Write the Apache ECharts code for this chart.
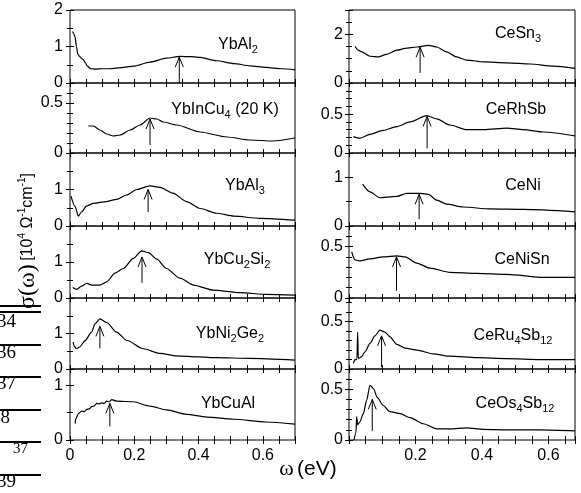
<!DOCTYPE html>
<html><head><meta charset="utf-8">
<script src="https://cdn.jsdelivr.net/npm/echarts@6/dist/echarts.min.js"></script>
<style>html,body{margin:0;padding:0;background:#fff}#c{width:581px;height:493px}</style>
</head><body><div id="c"></div>
<script>
// ---- data ----
const ybAl2 = [[0.008,1.41],[0.012,1.35],[0.016,1.25],[0.02,1.0],[0.024,0.8],[0.03,0.72],[0.041,0.64],[0.048,0.55],[0.054,0.46],[0.064,0.39],[0.08,0.38],[0.1,0.39],[0.124,0.39],[0.16,0.42],[0.197,0.46],[0.249,0.57],[0.30,0.68],[0.342,0.73],[0.38,0.72],[0.405,0.70],[0.456,0.61],[0.51,0.53],[0.56,0.47],[0.61,0.43],[0.66,0.39],[0.7,0.36]];
const ybInCu4 = [[0.057,0.27],[0.073,0.27],[0.093,0.23],[0.114,0.19],[0.135,0.17],[0.156,0.18],[0.187,0.23],[0.218,0.28],[0.249,0.35],[0.27,0.34],[0.29,0.31],[0.332,0.28],[0.405,0.21],[0.488,0.16],[0.56,0.13],[0.632,0.12],[0.7,0.15]];
const ybAl3 = [[0.003,0.82],[0.016,0.53],[0.026,0.27],[0.036,0.39],[0.052,0.55],[0.073,0.62],[0.114,0.67],[0.145,0.73],[0.176,0.85],[0.208,1.0],[0.249,1.1],[0.28,1.06],[0.32,0.9],[0.363,0.67],[0.405,0.48],[0.456,0.35],[0.51,0.27],[0.59,0.21],[0.7,0.16]];
const ybCu2Si2 = [[0.008,0.29],[0.021,0.24],[0.036,0.33],[0.052,0.41],[0.067,0.36],[0.093,0.36],[0.114,0.45],[0.14,0.69],[0.166,0.82],[0.197,1.1],[0.223,1.31],[0.244,1.26],[0.27,1.08],[0.30,0.82],[0.342,0.55],[0.384,0.36],[0.446,0.22],[0.529,0.15],[0.612,0.10],[0.7,0.08]];
const ybNi2Ge2 = [[0.01,0.76],[0.012,0.66],[0.02,0.57],[0.03,0.62],[0.047,0.8],[0.067,1.04],[0.078,1.27],[0.093,1.41],[0.114,1.31],[0.145,1.04],[0.176,0.81],[0.228,0.57],[0.28,0.44],[0.332,0.37],[0.40,0.34],[0.456,0.32],[0.56,0.30],[0.7,0.25]];
const ybCuAl = [[0.016,0.3],[0.018,0.39],[0.026,0.48],[0.036,0.53],[0.045,0.52],[0.052,0.56],[0.06,0.57],[0.067,0.61],[0.075,0.62],[0.083,0.67],[0.09,0.66],[0.098,0.68],[0.106,0.67],[0.114,0.71],[0.122,0.70],[0.13,0.74],[0.145,0.71],[0.197,0.70],[0.249,0.62],[0.30,0.55],[0.363,0.47],[0.425,0.42],[0.51,0.38],[0.61,0.33],[0.7,0.29]];
const ceSn3 = [[0.018,1.51],[0.028,1.35],[0.038,1.28],[0.063,1.1],[0.088,1.07],[0.113,1.18],[0.144,1.35],[0.169,1.42],[0.204,1.48],[0.239,1.55],[0.264,1.48],[0.294,1.28],[0.324,1.07],[0.354,0.94],[0.405,0.87],[0.475,0.83],[0.545,0.78],[0.615,0.69],[0.68,0.6]];
const ceRhSb = [[0.013,0.21],[0.033,0.19],[0.063,0.24],[0.103,0.29],[0.144,0.34],[0.184,0.40],[0.234,0.48],[0.264,0.44],[0.304,0.36],[0.354,0.30],[0.405,0.30],[0.475,0.32],[0.525,0.30],[0.585,0.27],[0.68,0.22]];
const ceNi = [[0.041,0.86],[0.063,0.70],[0.093,0.58],[0.123,0.60],[0.144,0.61],[0.174,0.67],[0.214,0.67],[0.239,0.65],[0.264,0.53],[0.294,0.45],[0.344,0.39],[0.425,0.35],[0.525,0.34],[0.68,0.29]];
const ceNiSn = [[0.008,0.45],[0.018,0.37],[0.033,0.36],[0.063,0.38],[0.103,0.40],[0.144,0.41],[0.169,0.40],[0.204,0.34],[0.244,0.29],[0.304,0.25],[0.385,0.24],[0.475,0.23],[0.585,0.20],[0.68,0.20]];
const ceRu4Sb12 = [[0.013,0.06],[0.018,0.10],[0.024,0.10],[0.026,0.39],[0.028,0.11],[0.038,0.13],[0.048,0.18],[0.063,0.27],[0.078,0.35],[0.093,0.41],[0.108,0.39],[0.123,0.34],[0.144,0.26],[0.169,0.22],[0.204,0.20],[0.254,0.16],[0.304,0.135],[0.385,0.12],[0.475,0.11],[0.575,0.10],[0.68,0.10]];
const ceOs4Sb12 = [[0.015,0.0],[0.021,0.07],[0.023,0.23],[0.026,0.15],[0.033,0.18],[0.043,0.26],[0.053,0.39],[0.063,0.54],[0.073,0.51],[0.085,0.42],[0.103,0.34],[0.123,0.28],[0.154,0.26],[0.184,0.22],[0.224,0.16],[0.264,0.11],[0.304,0.11],[0.354,0.12],[0.405,0.105],[0.475,0.10],[0.575,0.10],[0.68,0.09]];

// arrows: [omega, from, to]
const arrowsLeft = [[0.34,0,0.71],[0.249,0.08,0.34],[0.243,0.38,1.0],[0.224,0.42,1.14],[0.093,0.58,1.2],[0.124,0.25,0.67]];
const arrowsRight = [[0.214,0.41,1.47],[0.235,0.06,0.47],[0.211,0.14,0.65],[0.143,0.07,0.40],[0.098,0.02,0.35],[0.07,0.09,0.40]];

// panel labels (rich-text markup for subscripts)
const labelsLeft = ['YbAl{s|2}','YbInCu{s|4} (20 K)','YbAl{s|3}','YbCu{s|2}Si{s|2}','YbNi{s|2}Ge{s|2}','YbCuAl'];
const labelsRight = ['CeSn{s|3}','CeRhSb','CeNi','CeNiSn','CeRu{s|4}Sb{s|12}','CeOs{s|4}Sb{s|12}'];

const yMaxLeft = [2,0.7,2,2,2,1.3], yIntLeft = [1,0.5,1,1,1,1];
const yMaxRight = [3,0.9,1.5,0.7,0.75,0.7], yIntRight = [2,0.5,1,0.5,0.5,0.5];
const xTickStep = 0.2;

// ---- layout ----
const tops = [10,83,153,226,298,369], bottoms = [83,153,226,298,369,440];
const colLeft = [70,349], colWidth = [225,226], colXMax = [0.7,0.68];
const labelPosLeft = [[238,45],[225,110],[245,186],[237,260],[230,334],[228,404]];
const labelPosRight = [[518,34],[516,110],[523,186],[522,260],[513,336],[515,404]];

const seriesData = [[ybAl2,ybInCu4,ybAl3,ybCu2Si2,ybNi2Ge2,ybCuAl],[ceSn3,ceRhSb,ceNi,ceNiSn,ceRu4Sb12,ceOs4Sb12]];
const arrows = [arrowsLeft, arrowsRight];
const yMax = [yMaxLeft, yMaxRight], yInt = [yIntLeft, yIntRight];
const labels = [labelsLeft, labelsRight], labelPos = [labelPosLeft, labelPosRight];

const SANS = 'Liberation Sans', SERIF = 'Liberation Serif';
const grids = [], xAxes = [], yAxes = [], series = [], graphics = [];
let g = 0;
for (let c = 0; c < 2; c++) {
  for (let r = 0; r < 6; r++) {
    grids.push({left: colLeft[c], width: colWidth[c], top: tops[r], height: bottoms[r]-tops[r],
      show: true, borderColor: '#000', borderWidth: 1, backgroundColor: 'transparent'});
    const xBase = {type: 'value', gridIndex: g, min: 0, max: colXMax[c], interval: xTickStep,
      axisLine: {show: false}, splitLine: {show: false},
      axisTick: {show: true, inside: true, length: 4, lineStyle: {color: '#000'}},
      minorTick: {show: true, splitNumber: 4, length: 4, lineStyle: {color: '#000'}}};
    xAxes.push(Object.assign({}, xBase, {position: 'bottom',
      axisLabel: {show: r === 5, fontSize: 16, fontFamily: SANS, color: '#000', margin: 8,
        showMinLabel: c === 0, showMaxLabel: false}}));
    xAxes.push(Object.assign({}, xBase, {position: 'top', axisLabel: {show: false}}));
    const yBase = {type: 'value', gridIndex: g, min: 0, max: yMax[c][r], interval: yInt[c][r],
      axisLine: {show: false}, splitLine: {show: false},
      axisTick: {show: true, inside: true, length: 4, lineStyle: {color: '#000'}},
      minorTick: {show: true, splitNumber: yInt[c][r] === 0.5 ? 5 : (yInt[c][r] === 2 ? 4 : 2), length: 3, lineStyle: {color: '#000'}}};
    yAxes.push(Object.assign({}, yBase, {position: 'left',
      axisLabel: {show: true, fontSize: 16, fontFamily: SANS, color: '#000', margin: c === 0 ? 7 : 6,
        showMinLabel: true, showMaxLabel: (c === 0 && r === 0), hideOverlap: false}}));
    yAxes.push(Object.assign({}, yBase, {position: 'right', axisLabel: {show: false}}));

    series.push({type: 'line', xAxisIndex: 2*g, yAxisIndex: 2*g, data: seriesData[c][r],
      showSymbol: false, symbol: 'none', smooth: 0.25, smoothMonotone: 'x',
      lineStyle: {color: '#000', width: 1.2}, silent: true, animation: false});
    series.push({type: 'custom', xAxisIndex: 2*g, yAxisIndex: 2*g, data: [arrows[c][r]],
      encode: {x: 0, y: [1, 2]}, silent: true, animation: false,
      renderItem: function (params, api) {
        const p0 = api.coord([api.value(0), api.value(1)]);
        const p1 = api.coord([api.value(0), api.value(2)]);
        return {type: 'group', children: [
          {type: 'line', shape: {x1: p0[0], y1: p0[1], x2: p1[0], y2: p1[1]}, style: {stroke: '#000', lineWidth: 1}},
          {type: 'polyline', shape: {points: [[p1[0]-4, p1[1]+10], [p1[0], p1[1]], [p1[0]+4, p1[1]+10]]},
            style: {stroke: '#000', fill: null, lineWidth: 1}}
        ]};
      }});
    graphics.push({type: 'text', x: labelPos[c][r][0], y: labelPos[c][r][1], silent: true,
      style: {text: labels[c][r], fontSize: 16, fontFamily: SANS, fill: '#000', align: 'center', verticalAlign: 'middle',
        lineHeight: 20,
        rich: {s: {fontSize: 11, fontFamily: SANS, fill: '#000', lineHeight: 11, verticalAlign: 'bottom'}}}});
    g++;
  }
}

// axis titles
graphics.push({type: 'text', x: 308, y: 469, silent: true,
  style: {text: '{w|ω} {t|(eV)}', align: 'center', verticalAlign: 'middle', fill: '#000',
    rich: {w: {fontSize: 22, fontFamily: SERIF, fill: '#000'}, t: {fontSize: 21, fontFamily: SANS, fill: '#000'}}}});
graphics.push({type: 'text', x: 28, y: 241, rotation: Math.PI/2, silent: true,
  style: {text: '{s|σ(ω)} {b|[10}{p|4}{b| Ω}{p|-1}{b|cm}{p|-1}{b|]}', align: 'center', verticalAlign: 'middle', fill: '#000',
    rich: {s: {fontSize: 24, fontFamily: SERIF, fill: '#000', lineHeight: 22},
      b: {fontSize: 16, fontFamily: SANS, fill: '#000', lineHeight: 22},
      p: {fontSize: 10, fontFamily: SANS, fill: '#000', lineHeight: 10, verticalAlign: 'top'}}}});

// clipped fragments at the left edge of the scan
const fragLines = [306, 312, 345, 377, 410, 442, 475];
fragLines.forEach(function (y) {
  graphics.push({type: 'line', silent: true, shape: {x1: 0, y1: y, x2: 41, y2: y}, style: {stroke: '#000', lineWidth: 2}});
});
const fragTexts = [['34',-3,322],['36',-3,353],['37',-3,384],['38',-9,418],['37',13,449],['39',-3,482]];
fragTexts.forEach(function (t) {
  graphics.push({type: 'text', silent: true, x: t[1], y: t[2],
    style: {text: t[0], fontSize: t[1] > 0 ? 15 : 19, fontFamily: SERIF, fill: '#000', align: 'left', verticalAlign: 'middle'}});
});

const chart = echarts.init(document.getElementById('c'), null, {renderer: 'canvas'});
chart.setOption({animation: false, backgroundColor: '#fff', grid: grids, xAxis: xAxes, yAxis: yAxes, series: series, graphic: graphics});
</script>
</body></html>
